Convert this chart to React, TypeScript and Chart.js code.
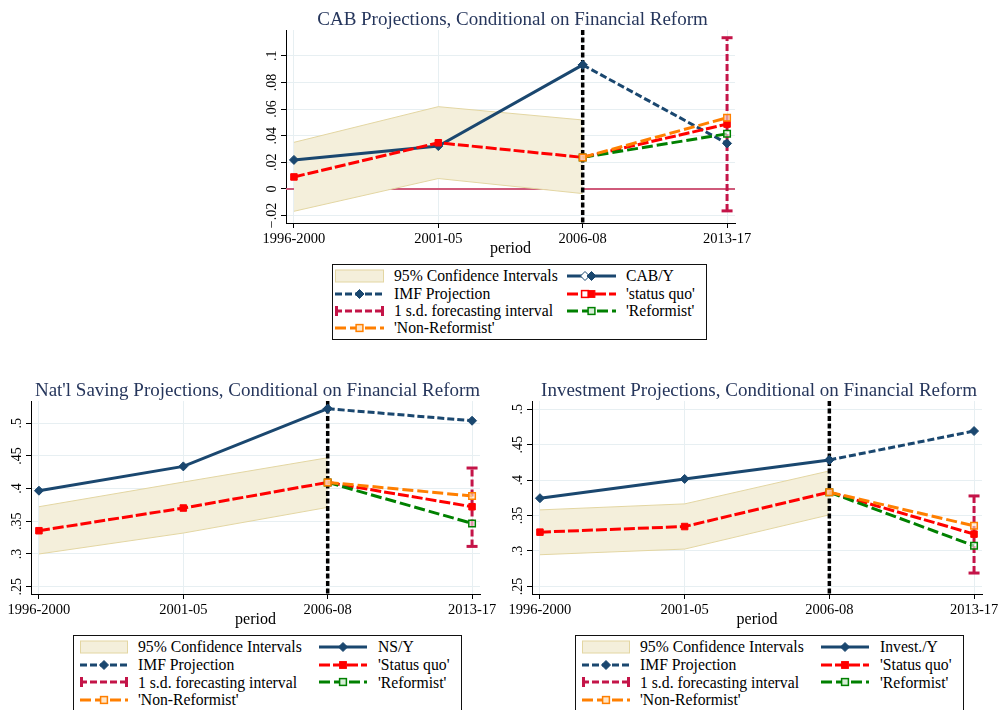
import React, { useEffect, useRef } from "react";
import { Chart, registerables } from "chart.js";

Chart.register(...registerables);

const SERIF = '"Liberation Serif", "Times New Roman", serif';
Chart.defaults.font.family = SERIF;
Chart.defaults.color = "#000";

// ---- categories -------------------------------------------------------
const PERIODS = ["1996-2000", "2001-05", "2006-08", "2013-17"];
const BREAK_PERIOD = 2; // last observed period
const FORECAST_PERIOD = 3;
const X_MIN = -0.055;
const X_MAX = 3.055;

// ---- current account balance / GDP -------------------------------------
const CAB_ACTUAL = [0.0218, 0.0322, 0.0932, null];
const CAB_IMF = [null, null, 0.0932, 0.0342];
const CAB_STATUS_QUO = [0.009, 0.0347, 0.0237, 0.0487];
const CAB_NON_REFORMIST = [null, null, 0.0237, 0.0535];
const CAB_REFORMIST = [null, null, 0.0237, 0.0414];
const CAB_CI_UPPER = [0.035, 0.0618, 0.0518];
const CAB_CI_LOWER = [-0.0168, 0.0078, -0.0035];
const CAB_SD_INTERVAL = [-0.0165, 0.1136];
const CAB_Y_TICKS = [-0.02, 0, 0.02, 0.04, 0.06, 0.08, 0.1];
const CAB_Y_LABELS = ["\u2212.02", "0", ".02", ".04", ".06", ".08", ".1"];

// ---- national saving / GDP ----------------------------------------------
const NS_ACTUAL = [0.3968, 0.434, 0.5222, null];
const NS_IMF = [null, null, 0.5222, 0.5038];
const NS_STATUS_QUO = [0.3356, 0.3703, 0.4095, 0.3723];
const NS_NON_REFORMIST = [null, null, 0.4095, 0.3887];
const NS_REFORMIST = [null, null, 0.4095, 0.3468];
const NS_CI_UPPER = [0.3723, 0.41, 0.4472];
const NS_CI_LOWER = [0.3, 0.332, 0.3713];
const NS_SD_INTERVAL = [0.3116, 0.4315];

// ---- investment / GDP ---------------------------------------------------
const INV_ACTUAL = [0.3745, 0.4017, 0.4285, null];
const INV_IMF = [null, null, 0.4285, 0.4693];
const INV_STATUS_QUO = [0.3266, 0.3345, 0.383, 0.3238];
const INV_NON_REFORMIST = [null, null, 0.383, 0.3355];
const INV_REFORMIST = [null, null, 0.383, 0.3073];
const INV_CI_UPPER = [0.358, 0.3665, 0.413];
const INV_CI_LOWER = [0.2947, 0.3027, 0.351];
const INV_SD_INTERVAL = [0.2689, 0.3777];

const SHARE_Y_TICKS = [0.25, 0.3, 0.35, 0.4, 0.45, 0.5];
const SHARE_Y_LABELS = [".25", ".3", ".35", ".4", ".45", ".5"];

// ---- legend texts (band, IMF, s.d., non-reformist | actual, status quo, reformist)
const CAB_LEGEND = ["95% Confidence Intervals", "IMF Projection", "1 s.d. forecasting interval", "'Non-Reformist'", "CAB/Y", "'status quo'", "'Reformist'"];
const NS_LEGEND = ["95% Confidence Intervals", "IMF Projection", "1 s.d. forecasting interval", "'Non-Reformist'", "NS/Y", "'Status quo'", "'Reformist'"];
const INV_LEGEND = ["95% Confidence Intervals", "IMF Projection", "1 s.d. forecasting interval", "'Non-Reformist'", "Invest./Y", "'Status quo'", "'Reformist'"];

// ---- colours ------------------------------------------------------------
const NAVY = "#1a476f";
const RED = "#ff0000";
const ORANGE = "#ff7f00";
const GREEN = "#008000";
const CRIMSON = "#c41448";
const ZERO_LINE = "#cf5a7a";
const BAND_FILL = "#f4efdb";
const BAND_EDGE = "#e3d6a2";
const GRID = "#e7eff2";
const TITLE = "#26365c";

type Series = (number | null)[];

interface PanelSpec {
  title: string;
  actual: Series;
  imf: Series;
  statusQuo: Series;
  nonReformist: Series;
  reformist: Series;
  ciUpper: Series;
  ciLower: Series;
  sdInterval: number[];
  yMin: number;
  yMax: number;
  yTicks: number[];
  yLabels: string[];
  zeroLine: boolean;
}

interface Frame {
  x: number; y: number; w: number; h: number;
  padLeft: number; yWidth: number; padRight: number; padTop: number; xHeight: number;
}

const CAB_PANEL: PanelSpec = {
  title: "CAB Projections, Conditional on Financial Reform",
  actual: CAB_ACTUAL, imf: CAB_IMF, statusQuo: CAB_STATUS_QUO,
  nonReformist: CAB_NON_REFORMIST, reformist: CAB_REFORMIST,
  ciUpper: CAB_CI_UPPER, ciLower: CAB_CI_LOWER, sdInterval: CAB_SD_INTERVAL,
  yMin: -0.0256, yMax: 0.1194, yTicks: CAB_Y_TICKS, yLabels: CAB_Y_LABELS, zeroLine: true,
};
const NS_PANEL: PanelSpec = {
  title: "Nat'l Saving Projections, Conditional on Financial Reform",
  actual: NS_ACTUAL, imf: NS_IMF, statusQuo: NS_STATUS_QUO,
  nonReformist: NS_NON_REFORMIST, reformist: NS_REFORMIST,
  ciUpper: NS_CI_UPPER, ciLower: NS_CI_LOWER, sdInterval: NS_SD_INTERVAL,
  yMin: 0.2388, yMax: 0.534, yTicks: SHARE_Y_TICKS, yLabels: SHARE_Y_LABELS, zeroLine: false,
};
const INV_PANEL: PanelSpec = {
  title: "Investment Projections, Conditional on Financial Reform",
  actual: INV_ACTUAL, imf: INV_IMF, statusQuo: INV_STATUS_QUO,
  nonReformist: INV_NON_REFORMIST, reformist: INV_REFORMIST,
  ciUpper: INV_CI_UPPER, ciLower: INV_CI_LOWER, sdInterval: INV_SD_INTERVAL,
  yMin: 0.2393, yMax: 0.5117, yTicks: SHARE_Y_TICKS, yLabels: SHARE_Y_LABELS, zeroLine: false,
};

const TOP_FRAME: Frame = { x: 226, y: 0, w: 570, h: 262, padLeft: 30, yWidth: 30, padRight: 61, padTop: 30, xHeight: 39 };
const LEFT_FRAME: Frame = { x: 0, y: 370, w: 520, h: 263, padLeft: 6, yWidth: 25, padRight: 40, padTop: 31, xHeight: 39 };
const RIGHT_FRAME: Frame = { x: 500, y: 370, w: 502, h: 263, padLeft: 6, yWidth: 26, padRight: 20, padTop: 31, xHeight: 39 };

const pts = (arr: Series) => arr.map((v, i) => ({ x: i, y: v }));

function buildConfig(p: PanelSpec, f: Frame): any {
  const overlay = {
    id: "panelOverlay",
    beforeDatasetsDraw(chart: any) {
      if (!p.zeroLine) return;
      const { ctx, chartArea: ca } = chart;
      const y = chart.scales.y.getPixelForValue(0);
      ctx.save();
      ctx.strokeStyle = ZERO_LINE;
      ctx.lineWidth = 2;
      ctx.beginPath();
      ctx.moveTo(ca.left, y);
      ctx.lineTo(ca.right, y);
      ctx.stroke();
      ctx.restore();
    },
    afterDatasetDraw(chart: any, args: any) {
      // vertical break marker, drawn right above the confidence band
      if (args.index !== 0) return;
      const { ctx, chartArea: ca } = chart;
      const x = chart.scales.x.getPixelForValue(BREAK_PERIOD);
      ctx.save();
      ctx.strokeStyle = "#000";
      ctx.lineWidth = 3.5;
      ctx.setLineDash([5, 2.5]);
      ctx.beginPath();
      ctx.moveTo(x, ca.top);
      ctx.lineTo(x, ca.bottom);
      ctx.stroke();
      ctx.restore();
    },
    afterDraw(chart: any) {
      const { ctx, chartArea: ca } = chart;
      ctx.save();
      ctx.font = `19px ${SERIF}`;
      ctx.fillStyle = TITLE;
      ctx.textAlign = "center";
      ctx.textBaseline = "alphabetic";
      ctx.fillText(p.title, (ca.left + ca.right) / 2 + 2, ca.top - 5.5);
      // rotated y tick labels
      ctx.font = `14px ${SERIF}`;
      ctx.fillStyle = "#000";
      const ys = chart.scales.y;
      p.yTicks.forEach((v, i) => {
        const y = ys.getPixelForValue(v);
        ctx.save();
        ctx.translate(ca.left - 10, y);
        ctx.rotate(-Math.PI / 2);
        ctx.textAlign = "center";
        ctx.textBaseline = "alphabetic";
        ctx.fillText(p.yLabels[i], 0, 0);
        ctx.restore();
      });
      ctx.restore();
    },
  };

  const line = (data: any, color: string, order: number, extra: any) => ({
    data, borderColor: color, borderWidth: 3, borderCapStyle: "butt",
    tension: 0, spanGaps: false, fill: false, order, ...extra,
  });

  const datasets = [
    line(pts(p.ciUpper), BAND_EDGE, 10, { borderWidth: 1, pointRadius: 0 }),
    line(pts(p.ciLower), BAND_EDGE, 10, { borderWidth: 1, pointRadius: 0, fill: "-1", backgroundColor: BAND_FILL }),
    line(p.sdInterval.map((v) => ({ x: FORECAST_PERIOD, y: v })), CRIMSON, 6, {
      borderDash: [7, 3], pointStyle: "line", pointRadius: 5.5, pointBorderWidth: 3, pointBorderColor: CRIMSON,
    }),
    line(pts(p.imf), NAVY, 5, {
      borderDash: [7, 3], pointStyle: "rectRot", pointRadius: 4.5, pointBorderWidth: 1,
      pointBackgroundColor: NAVY, pointBorderColor: NAVY,
    }),
    line(pts(p.actual), NAVY, 4, {
      pointStyle: "rectRot", pointRadius: 4.5, pointBorderWidth: 1,
      pointBackgroundColor: NAVY, pointBorderColor: NAVY,
    }),
    line(pts(p.statusQuo), RED, 3, {
      borderDash: [11, 3], pointStyle: "rect", pointRadius: 4.6, pointBorderWidth: 1,
      pointBackgroundColor: RED, pointBorderColor: RED,
    }),
    line(pts(p.reformist), GREEN, 2, {
      borderDash: [11, 4], pointStyle: "rect", pointRadius: 4.6, pointBorderWidth: 1.5,
      pointBackgroundColor: "rgba(255,255,255,0.55)", pointBorderColor: GREEN,
    }),
    line(pts(p.nonReformist), ORANGE, 1, {
      borderDash: [11, 4], pointStyle: "rect", pointRadius: 4.6, pointBorderWidth: 1.5,
      pointBackgroundColor: "rgba(255,230,200,0.6)", pointBorderColor: ORANGE,
    }),
  ];

  return {
    type: "line",
    data: { datasets },
    plugins: [overlay],
    options: {
      responsive: false,
      animation: false,
      events: [],
      layout: { padding: { left: f.padLeft, right: f.padRight, top: f.padTop, bottom: 0 } },
      plugins: { legend: { display: false }, tooltip: { enabled: false }, title: { display: false } },
      scales: {
        x: {
          type: "linear",
          min: X_MIN,
          max: X_MAX,
          afterBuildTicks: (s: any) => { s.ticks = PERIODS.map((_, i) => ({ value: i })); },
          afterFit: (s: any) => { s.height = f.xHeight; },
          ticks: {
            autoSkip: false, maxRotation: 0, minRotation: 0, padding: 2, color: "#000",
            font: { size: 14.5, family: SERIF },
            callback: (v: any) => PERIODS[Math.round(Number(v))] ?? "",
          },
          grid: { color: GRID, lineWidth: 1, tickColor: "#000", tickLength: 5, drawTicks: true },
          border: { color: "#000", width: 1 },
          title: { display: true, text: "period", color: "#000", font: { size: 16, family: SERIF }, padding: { top: 0, bottom: 4 } },
        },
        y: {
          type: "linear",
          min: p.yMin,
          max: p.yMax,
          afterBuildTicks: (s: any) => { s.ticks = p.yTicks.map((v) => ({ value: v })); },
          afterFit: (s: any) => { s.width = f.yWidth; },
          ticks: { display: false },
          grid: { color: GRID, lineWidth: 1, tickColor: "#000", tickLength: 5, drawTicks: true },
          border: { color: "#000", width: 1 },
        },
      },
    },
  };
}

function Panel({ spec, frame }: { spec: PanelSpec; frame: Frame }) {
  const ref = useRef<HTMLCanvasElement>(null);
  useEffect(() => {
    const chart = new Chart(ref.current as HTMLCanvasElement, buildConfig(spec, frame));
    return () => chart.destroy();
  }, [spec, frame]);
  return (
    <canvas
      ref={ref}
      width={frame.w}
      height={frame.h}
      style={{ position: "absolute", left: frame.x, top: frame.y, width: frame.w, height: frame.h }}
    />
  );
}

// ---- legend ---------------------------------------------------------------
type SymKind = "band" | "imf" | "sd" | "nonref" | "actual" | "sq" | "ref";
const SYM_ORDER: SymKind[] = ["band", "imf", "sd", "nonref", "actual", "sq", "ref"];

function Diamond({ cx, fill, stroke }: { cx: number; fill: string; stroke: string }) {
  const r = 4.5;
  return <polygon points={`${cx},${7 - r} ${cx + r},7 ${cx},${7 + r} ${cx - r},7`} fill={fill} stroke={stroke} strokeWidth={1} />;
}
function Square({ cx, fill, stroke, sw = 1 }: { cx: number; fill: string; stroke: string; sw?: number }) {
  return <rect x={cx - 3.4} y={3.6} width={6.8} height={6.8} fill={fill} stroke={stroke} strokeWidth={sw} />;
}

function LegendSymbol({ kind, w, doubled }: { kind: SymKind; w: number; doubled: boolean }) {
  const cx = w / 2;
  const hline = (color: string, dash?: string) => (
    <line x1={0} y1={7} x2={w} y2={7} stroke={color} strokeWidth={3} strokeDasharray={dash} />
  );
  let body: React.ReactNode = null;
  switch (kind) {
    case "band":
      body = <rect x={0.5} y={1} width={w - 1} height={12} fill={BAND_FILL} stroke={BAND_EDGE} strokeWidth={1} />;
      break;
    case "imf":
      body = (<>{hline(NAVY, "7 3")}<Diamond cx={cx} fill={NAVY} stroke={NAVY} /></>);
      break;
    case "sd":
      body = (
        <>
          {hline(CRIMSON, "7 3")}
          <line x1={1.5} y1={2} x2={1.5} y2={12} stroke={CRIMSON} strokeWidth={3} />
          <line x1={w - 1.5} y1={2} x2={w - 1.5} y2={12} stroke={CRIMSON} strokeWidth={3} />
        </>
      );
      break;
    case "nonref":
      body = (<>{hline(ORANGE, "11 4")}<Square cx={cx} fill="#ffe6c8" stroke={ORANGE} sw={1.5} /></>);
      break;
    case "actual":
      body = (
        <>
          {hline(NAVY)}
          {doubled && <Diamond cx={cx - 6.5} fill="#ffffff" stroke={NAVY} />}
          <Diamond cx={cx} fill={NAVY} stroke={NAVY} />
        </>
      );
      break;
    case "sq":
      body = (
        <>
          {hline(RED, "11 3")}
          {doubled && <Square cx={cx - 6.5} fill="#ffffff" stroke={RED} sw={1.5} />}
          <Square cx={cx} fill={RED} stroke={RED} />
        </>
      );
      break;
    case "ref":
      body = (<>{hline(GREEN, "11 4")}<Square cx={cx} fill="#d8eed8" stroke={GREEN} sw={1.5} /></>);
      break;
  }
  return <svg width={w} height={14} style={{ display: "block" }}>{body}</svg>;
}

interface LegendFrame {
  x: number; y: number; w: number; h: number;
  row0: number; rowH: number; symX: number[]; textX: number[]; symW: number;
}

const TOP_LEGEND: LegendFrame = { x: 332, y: 264, w: 375, h: 76, row0: 3.4, rowH: 17.3, symX: [3, 235], textX: [62, 294], symW: 49 };
const LEFT_LEGEND: LegendFrame = { x: 73, y: 635, w: 389, h: 80, row0: 2.9, rowH: 17.8, symX: [7, 246], textX: [65, 305], symW: 48 };
const RIGHT_LEGEND: LegendFrame = { x: 575, y: 635, w: 389, h: 80, row0: 2.9, rowH: 17.8, symX: [7, 246], textX: [65, 305], symW: 48 };

function Legend({ labels, frame, doubled }: { labels: string[]; frame: LegendFrame; doubled: boolean }) {
  return (
    <div
      style={{
        position: "absolute", left: frame.x, top: frame.y, width: frame.w, height: frame.h,
        boxSizing: "border-box", border: "1px solid #111", background: "#fff",
      }}
    >
      {labels.map((label, i) => {
        const col = i < 4 ? 0 : 1;
        const row = i < 4 ? i : i - 4;
        const top = frame.row0 + row * frame.rowH - 1;
        return (
          <React.Fragment key={i}>
            <div style={{ position: "absolute", left: frame.symX[col] - 1, top: top + 1.9 }}>
              <LegendSymbol kind={SYM_ORDER[i]} w={frame.symW} doubled={doubled} />
            </div>
            <div
              style={{
                position: "absolute", left: frame.textX[col] - 1, top, height: 18, lineHeight: "18px",
                font: `15.7px ${SERIF}`, color: "#000", whiteSpace: "nowrap",
              }}
            >
              {label}
            </div>
          </React.Fragment>
        );
      })}
    </div>
  );
}

export default function App() {
  return (
    <div style={{ position: "absolute", left: 0, top: 0, width: 1002, height: 710, background: "#fff", overflow: "hidden" }}>
      <Panel spec={CAB_PANEL} frame={TOP_FRAME} />
      <Panel spec={NS_PANEL} frame={LEFT_FRAME} />
      <Panel spec={INV_PANEL} frame={RIGHT_FRAME} />
      <Legend labels={CAB_LEGEND} frame={TOP_LEGEND} doubled={true} />
      <Legend labels={NS_LEGEND} frame={LEFT_LEGEND} doubled={false} />
      <Legend labels={INV_LEGEND} frame={RIGHT_LEGEND} doubled={false} />
    </div>
  );
}
